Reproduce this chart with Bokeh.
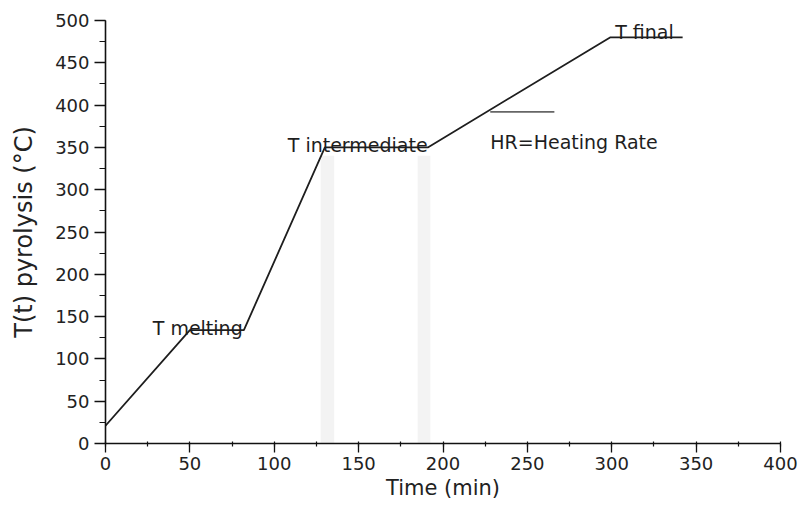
from bokeh.plotting import figure
from bokeh.models import Range1d, SingleIntervalTicker
from bokeh.core.properties import value
from bokeh.embed import file_html
from bokeh.resources import INLINE

# Temperature program data
time_min = [0, 50, 82, 130, 191, 299, 342]
temp_c = [21, 134, 134, 350, 350, 480, 480]

# Heating-rate legend stroke
hr_x = [228, 266]
hr_y = [392, 392]

# Annotation labels
label_text = ["T melting", "T intermediate", "HR=Heating Rate", "T final"]
label_x = [28, 108, 228, 302]
label_y = [137, 353, 356, 486]

# Faint vertical bands (scan artefacts in the original)
band_left = [127.5, 185.0]
band_right = [135.5, 192.5]
band_top = [340, 340]
band_bottom = [0, 0]

FONT = "DejaVu Sans"

p = figure(width=802, height=506, output_backend="svg", toolbar_location=None,
           x_range=Range1d(0, 400), y_range=Range1d(0, 500),
           min_border_left=105, min_border_right=22, min_border_top=20,
           min_border_bottom=63)
p.outline_line_color = None
p.xgrid.visible = False
p.ygrid.visible = False
p.background_fill_color = "white"
p.border_fill_color = "white"

p.quad(left=band_left, right=band_right, top=band_top, bottom=band_bottom,
       fill_color="#f3f3f3", line_color=None)

p.line(time_min, temp_c, line_color="#1e1e1e", line_width=1.8)
p.line(hr_x, hr_y, line_color="#666666", line_width=1.8)

p.text(x=label_x, y=label_y, text=label_text, text_font=value(FONT),
       text_font_size="19px", text_color="#1e1e1e",
       text_baseline="alphabetic", text_align="left")

p.xaxis.ticker = SingleIntervalTicker(interval=50, num_minor_ticks=2)
p.yaxis.ticker = SingleIntervalTicker(interval=50, num_minor_ticks=2)

p.xaxis.axis_label = "Time (min)"
p.yaxis.axis_label = "T(t) pyrolysis (°C)"

for ax in (p.xaxis[0], p.yaxis[0]):
    ax.axis_line_color = "#111111"
    ax.axis_line_width = 1.6
    ax.major_tick_line_color = "#111111"
    ax.major_tick_line_width = 1.3
    ax.minor_tick_line_color = "#111111"
    ax.minor_tick_line_width = 1.2
    ax.major_tick_in = 0
    ax.major_label_text_font = FONT
    ax.major_label_text_font_size = "18px"
    ax.major_label_text_color = "#222222"
    ax.axis_label_text_font = FONT
    ax.axis_label_text_font_style = "normal"
    ax.axis_label_text_color = "#222222"

p.xaxis.major_tick_out = 9
p.xaxis.minor_tick_out = 3
p.xaxis.minor_tick_in = 2
p.xaxis.major_label_standoff = 4
p.xaxis.axis_label_standoff = 3
p.xaxis.axis_label_text_font_size = "21px"

p.yaxis.major_tick_out = 11
p.yaxis.minor_tick_out = 6
p.yaxis.minor_tick_in = 0
p.yaxis.major_label_standoff = 5
p.yaxis.axis_label_standoff = 14
p.yaxis.axis_label_text_font_size = "24px"

open("out.html", "w").write(file_html(p, INLINE))
